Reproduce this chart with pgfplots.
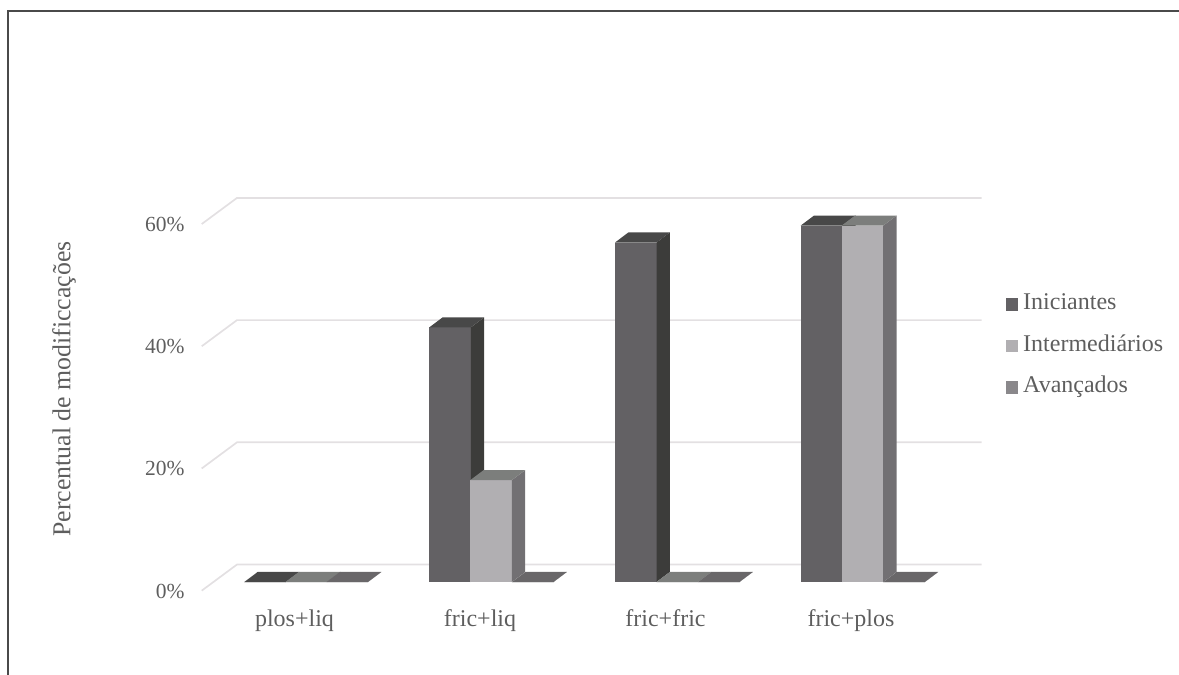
\documentclass[border=0pt]{standalone}
\usepackage{fontspec}
\setmainfont{Liberation Serif}
\usepackage{pgfplots}
\pgfplotsset{compat=1.18}

\definecolor{iniFront}{HTML}{636164}
\definecolor{iniTop}{HTML}{484848}
\definecolor{iniSide}{HTML}{3C3C3A}
\definecolor{intFront}{HTML}{B1AFB2}
\definecolor{intTop}{HTML}{7C7E7C}
\definecolor{intSide}{HTML}{727073}
\definecolor{avaFront}{HTML}{8A888B}
\definecolor{avaTop}{HTML}{696769}
\definecolor{avaSide}{HTML}{5A585A}
\definecolor{wall}{HTML}{E3E0E2}
\definecolor{labelgray}{HTML}{5E5E5E}
\definecolor{frame}{HTML}{4A4A4A}

% One bar in oblique view: front face, right side and top.
% #1 left edge, #2 value in percent, #3 colour prefix.
\newcommand{\solidbar}[3]{%
  \pgfmathsetmacro{\xa}{#1}%
  \pgfmathsetmacro{\xb}{#1+41.5}%
  \pgfmathsetmacro{\xc}{#1+41.5+13.3}%
  \pgfmathsetmacro{\xd}{#1+13.3}%
  \pgfmathsetmacro{\yt}{#2+1.64}%
  \edef\facefront{\noexpand\addplot[fill=#3Front,draw=none,forget plot] coordinates {(\xa,0) (\xb,0) (\xb,#2) (\xa,#2)};}\facefront
  \edef\faceside{\noexpand\addplot[fill=#3Side,draw=none,forget plot] coordinates {(\xb,0) (\xc,1.64) (\xc,\yt) (\xb,#2)};}\faceside
  \edef\facetop{\noexpand\addplot[fill=#3Top,draw=none,forget plot] coordinates {(\xa,#2) (\xb,#2) (\xc,\yt) (\xd,\yt)};}\facetop
}
% Back wall line and the short floor segment for one level.
\newcommand{\wallline}[1]{%
  \pgfmathsetmacro{\yf}{#1-1.42}%
  \pgfmathsetmacro{\yb}{#1+2.86}%
  \edef\wl{\noexpand\addplot[wall,line width=1.7pt,forget plot] coordinates {(201.7,\yf) (237,\yb) (981.5,\yb)};}\wl
}

\begin{document}
\begin{tikzpicture}
\begin{axis}[
  scale only axis, width=1179pt, height=675pt,
  xmin=0, xmax=1179, ymin=-15.22, ymax=95.25,
  axis line style={draw=none}, tick style={draw=none},
  clip=true,
  font=\fontsize{24pt}{28pt}\selectfont,
  ytick={0,20,40,60},
  yticklabels={0\%,20\%,40\%,60\%},
  y tick label style={font=\fontsize{21.5pt}{26pt}\selectfont, text=labelgray, xshift=188pt, yshift=-9pt},
  every axis y label/.style={at={(axis cs:64,31.6)},rotate=90,anchor=center,text=labelgray,font=\fontsize{25.8pt}{30pt}\selectfont},
  ylabel={Percentual de modificcações},
  xtick={294.5,480,665.5,851},
  xticklabels={plos+liq,fric+liq,fric+fric,fric+plos},
  x tick label style={text=labelgray, yshift=69pt},
  legend cell align=left,
  legend style={at={(axis cs:1005.5,47.2)},anchor=north west,draw=none,fill=none,
    text=labelgray,row sep=20.5pt,inner sep=0pt,
    nodes={text height=16pt,text depth=5pt,inner sep=0pt},
    /tikz/column 1/.style={column sep=5.5pt}},
  legend image code/.code={\fill[#1] (0pt,-5.8pt) rectangle (11.6pt,5.8pt);},
]
\draw[frame,line width=2pt] (axis cs:7.5,-20) -- (axis cs:7.5,93.5) -- (axis cs:1190,93.5);

\wallline{0}
\wallline{20}
\wallline{40}
\wallline{60}

% plos+liq
\solidbar{244.3}{0}{ini}
\solidbar{285.5}{0}{int}
\solidbar{326.5}{0}{ava}
% fric+liq
\solidbar{429.3}{41.67}{ini}
\solidbar{470.3}{16.67}{int}
\solidbar{512}{0}{ava}
% fric+fric
\solidbar{615}{55.56}{ini}
\solidbar{656.5}{0}{int}
\solidbar{698}{0}{ava}
% fric+plos
\solidbar{800.7}{58.33}{ini}
\solidbar{841.7}{58.33}{int}
\solidbar{883.3}{0}{ava}

\addlegendimage{iniFront}\addlegendentry{Iniciantes}
\addlegendimage{intFront}\addlegendentry{Intermediários}
\addlegendimage{avaFront}\addlegendentry{Avançados}
\end{axis}
\end{tikzpicture}
\end{document}
